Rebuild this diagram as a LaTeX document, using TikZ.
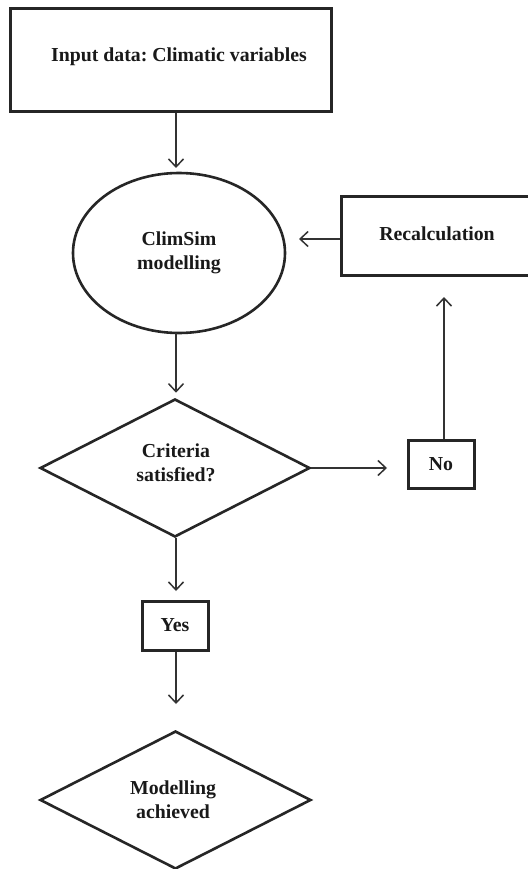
\documentclass[tikz,border=0pt]{standalone}
\usepackage{fontspec}
\setmainfont{Liberation Serif}
\usetikzlibrary{shapes.geometric,arrows.meta}
\frenchspacing
\begin{document}
\begin{tikzpicture}[x=1pt,y=-1pt,
  lbl/.style={font=\fontsize{19.8}{24}\selectfont\bfseries, text=black!90, align=center},
  boxnode/.style={draw=black!85, line width=3pt, rectangle, inner sep=0pt, lbl},
  ellnode/.style={draw=black!85, line width=2.6pt, ellipse, inner sep=0pt, lbl},
  dianode/.style={draw=black!85, line width=2.6pt, diamond, inner sep=0pt, lbl},
  conn/.style={draw=black!80, line width=1.5pt, -{Straight Barb[length=8pt,width=15pt,line width=1.5pt]}, shorten >=5pt}
]
\useasboundingbox[fill=white] (0,0) rectangle (527,869);
\node[boxnode, minimum width=321pt, minimum height=103pt] (input) at (170.5,60.5) {};
\node[lbl] (inputtxt) at (179,57) {Input data: Climatic variables};
\node[ellnode, minimum width=212pt, minimum height=160pt] (sim) at (179,253) {ClimSim\\modelling};
\node[boxnode, minimum width=190pt, minimum height=79pt] (recalc) at (436,235.5) {};
\node[lbl] (recalctxt) at (437,234) {Recalculation};
\node[dianode, minimum width=270pt, minimum height=138pt] (crit) at (175,468) {};
\node[lbl] (crittxt) at (176,463) {Criteria\\satisfied?};
\node[boxnode, minimum width=66pt, minimum height=48pt] (no) at (441,464) {No};
\node[boxnode, minimum width=66pt, minimum height=49pt] (yes) at (175,625.5) {Yes};
\node[dianode, minimum width=271pt, minimum height=138pt] (done) at (175.5,800) {};
\node[lbl] (donetxt) at (173,800) {Modelling\\achieved};
\draw[conn] (input.south -| 176,0) -- (176,173);
\draw[conn] (recalc.west |- 0,239) -- (294,239);
\draw[conn] (176,333) -- (crit.north -| 176,0);
\draw[conn] (crit.east) -- (392,468);
\draw[conn] (no.north -| 444,0) -- (444,292);
\draw[conn] (crit.south -| 176,0) -- (176,596);
\draw[conn] (yes.south -| 176,0) -- (176,709);
\end{tikzpicture}
\end{document}
